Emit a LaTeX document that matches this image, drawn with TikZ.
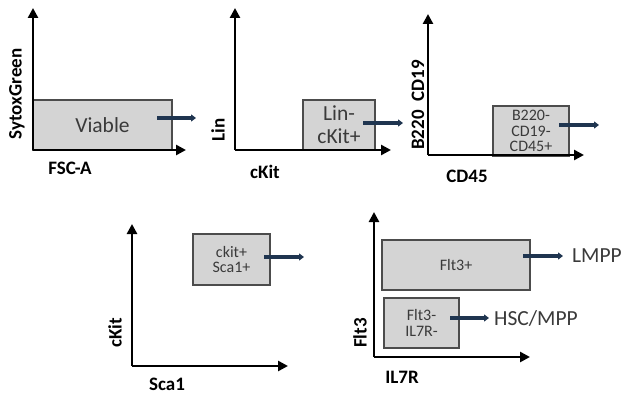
\documentclass[tikz,border=0pt]{standalone}
\usepackage{fontspec}
\setmainfont{Carlito}
\usetikzlibrary{arrows.meta}
\definecolor{arrowblue}{HTML}{1F3550}
\definecolor{gatefill}{HTML}{D4D4D4}
\definecolor{gatetext}{HTML}{3A3A3A}
\begin{document}
\begin{tikzpicture}[x=1pt,y=-1pt,
 axis/.style={line width=2.6pt, -{Triangle[length=10pt,width=10pt]}},
 gate/.style={draw=black!70, fill=gatefill, line width=1.1pt, inner sep=0pt, align=center, text=gatetext},
 flow/.style={draw=arrowblue, line width=3.2pt, -{Triangle[length=5pt,width=7pt]}},
 axlab/.style={font=\bfseries\fontsize{19}{20}\selectfont, inner sep=0pt},
 big/.style={font=\fontsize{21.5}{23}\selectfont},
 small/.style={font=\fontsize{16}{15.5}\selectfont},
 outlab/.style={font=\fontsize{21.5}{22}\selectfont, text=gatetext, anchor=west, inner sep=0pt}
]
\fill[white] (0,0) rectangle (621,396);
\useasboundingbox (0,0) rectangle (621,396);

% Panel 1
\coordinate (o1) at (33,150);
\coordinate (y1) at (33,8);
\coordinate (x1) at (186,150);
\node[gate, big, minimum width=139pt, minimum height=50pt] (viable) at (102.5,125) {Viable};
\draw[axis] (o1) -- (y1);
\draw[axis] (o1) -- (x1);
\coordinate (a1s) at (157,118);
\coordinate (a1e) at (196,118);
\draw[flow] (a1s) -- (a1e);
\node[axlab, rotate=90] (l1y) at (17,94) {SytoxGreen};
\node[axlab] (l1x) at (70,168) {FSC-A};

% Panel 2
\coordinate (o2) at (235,150);
\coordinate (y2) at (235,8);
\coordinate (x2) at (391,150);
\node[gate, big, minimum width=72pt, minimum height=50pt] (linckit) at (339,125) {Lin-\\cKit+};
\draw[axis] (o2) -- (y2);
\draw[axis] (o2) -- (x2);
\coordinate (a2s) at (363,123);
\coordinate (a2e) at (403,123);
\draw[flow] (a2s) -- (a2e);
\node[axlab, rotate=90] (l2y) at (218,130) {Lin};
\node[axlab] (l2x) at (265,172) {cKit};

% Panel 3
\coordinate (o3) at (428,155);
\coordinate (y3) at (428,14);
\coordinate (x3) at (584,155);
\node[gate, small, minimum width=76pt, minimum height=50pt] (b220) at (531,131) {B220-\\CD19-\\CD45+};
\draw[axis] (o3) -- (y3);
\draw[axis] (o3) -- (x3);
\coordinate (a3s) at (559,125);
\coordinate (a3e) at (599,125);
\draw[flow] (a3s) -- (a3e);
\node[axlab, rotate=90] (l3y) at (418,105) {B220\ \ CD19};
\node[axlab] (l3x) at (467,176) {CD45};

% Panel 4
\coordinate (o4) at (132,366);
\coordinate (y4) at (132,224);
\coordinate (x4) at (288,366);
\node[gate, small, minimum width=77pt, minimum height=51pt] (sca) at (231.5,259.5) {ckit+\\Sca1+};
\draw[axis] (o4) -- (y4);
\draw[axis] (o4) -- (x4);
\coordinate (a4s) at (264,257);
\coordinate (a4e) at (304,257);
\draw[flow] (a4s) -- (a4e);
\node[axlab, rotate=90] (l4y) at (115,333) {cKit};
\node[axlab] (l4x) at (167,384) {Sca1};

% Panel 5
\coordinate (o5) at (374,357);
\coordinate (y5) at (374,212);
\coordinate (x5) at (530,357);
\node[gate, small, minimum width=148pt, minimum height=50pt] (flt3p) at (456,265) {Flt3+};
\node[gate, small, minimum width=75pt, minimum height=50pt] (flt3m) at (421.5,323) {Flt3-\\IL7R-};
\draw[axis] (o5) -- (y5);
\draw[axis] (o5) -- (x5);
\coordinate (a5s) at (523,256);
\coordinate (a5e) at (563,256);
\draw[flow] (a5s) -- (a5e);
\node[outlab] (lmpp) at (572,256) {LMPP};
\coordinate (a6s) at (450,318);
\coordinate (a6e) at (489,318);
\draw[flow] (a6s) -- (a6e);
\node[outlab] (hsc) at (494,318) {HSC/MPP};
\node[axlab, rotate=90] (l5y) at (360,333) {Flt3};
\node[axlab] (l5x) at (402,377) {IL7R};
\end{tikzpicture}
\end{document}
